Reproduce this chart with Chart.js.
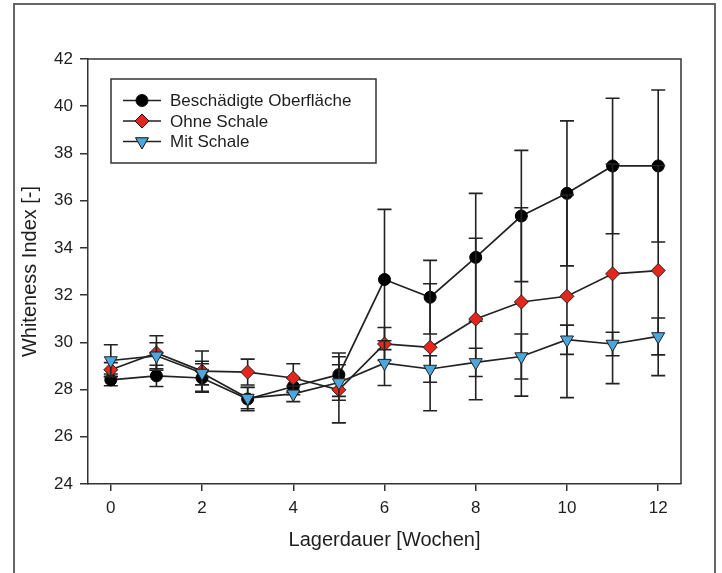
<!DOCTYPE html>
<html><head><meta charset="utf-8">
<script src="https://cdn.jsdelivr.net/npm/chart.js@4.4.1/dist/chart.umd.min.js"></script>
<style>html,body{margin:0;padding:0;background:#fff;}canvas{display:block}</style>
</head><body>
<canvas id="c" width="722" height="573"></canvas>
<script>
// ---- data ----
const weeks = [0,1,2,3,4,5,6,7,8,9,10,11,12];
const xTickValues = [0,2,4,6,8,10,12];
const yTickValues = [24,26,28,30,32,34,36,38,40,42];
const seriesNames = ['Beschädigte Oberfläche','Ohne Schale','Mit Schale'];
const xTitle = 'Lagerdauer [Wochen]';
const yTitle = 'Whiteness Index [-]';

const damaged   = [28.41,28.58,28.49,27.60,28.13,28.63,32.66,31.91,33.60,35.35,36.31,37.47,37.47];
const damagedSD = [0.25,0.45,0.60,0.50,0.35,0.92,2.97,1.56,2.71,2.78,3.07,2.87,3.22];
const noShell   = [28.84,29.55,28.78,28.74,28.49,27.99,29.93,29.79,30.99,31.71,31.95,32.90,33.04];
const noShellSD = [0.30,0.73,0.85,0.55,0.60,1.40,0.70,2.69,3.42,3.99,4.29,4.65,4.45];
const withShell   = [29.23,29.43,28.70,27.64,27.82,28.30,29.12,28.87,29.15,29.40,30.11,29.93,30.25];
const withShellSD = [0.67,0.55,0.50,0.45,0.33,0.75,0.95,0.56,0.60,0.95,0.62,0.50,0.78];

const FONT = "'Liberation Sans', Arial, Helvetica, sans-serif";
Chart.defaults.font.family = FONT;
Chart.defaults.color = '#1e1e1e';

function pts(vals){ return weeks.map((w,i)=>({x:w,y:vals[i]})); }

const outerFrame = {
  id:'outerFrame',
  beforeDraw(chart){
    const c = chart.ctx; c.save();
    c.fillStyle='#fff'; c.fillRect(0,0,chart.width,chart.height);
    c.strokeStyle='#666'; c.lineWidth=2;
    c.strokeRect(14,4,701,640);
    c.restore();
  },
  afterDraw(chart){
    const a = chart.chartArea, c = chart.ctx; c.save();
    c.strokeStyle='#333'; c.lineWidth=1.5;
    c.beginPath();
    c.moveTo(a.left,a.top); c.lineTo(a.right,a.top); c.lineTo(a.right,a.bottom);
    c.stroke(); c.restore();
  }
};

const errorBars = {
  id:'errorBars',
  beforeDatasetDraw(chart,args){
    const ds = chart.data.datasets[args.index];
    const ys = chart.scales.y, c = chart.ctx;
    c.save(); c.strokeStyle='#222'; c.lineWidth=1.6;
    args.meta.data.forEach((p,i)=>{
      const v = ds.data[i].y, e = ds.sd[i];
      const yt = ys.getPixelForValue(v+e), yb = ys.getPixelForValue(v-e), x = p.x;
      c.beginPath();
      c.moveTo(x,yt); c.lineTo(x,yb);
      c.moveTo(x-7,yt); c.lineTo(x+7,yt);
      c.moveTo(x-7,yb); c.lineTo(x+7,yb);
      c.stroke();
    });
    c.restore();
  }
};

const innerLegend = {
  id:'innerLegend',
  afterDatasetsDraw(chart){
    const a = chart.chartArea, c = chart.ctx;
    const left = a.left + 23, top = a.top + 20, w = 265, h = 84;
    c.save();
    c.fillStyle='#fff'; c.fillRect(left,top,w,h);
    c.strokeStyle='#333'; c.lineWidth=1.5; c.strokeRect(left,top,w,h);
    chart.data.datasets.forEach((ds,i)=>{
      const y = top + 21.5 + i*20.5;
      c.strokeStyle='#222'; c.lineWidth=1.6;
      c.beginPath(); c.moveTo(left+12,y); c.lineTo(left+50,y); c.stroke();
      c.fillStyle = ds.pointBackgroundColor; c.strokeStyle='#111'; c.lineWidth=1;
      Chart.helpers.drawPoint(c,{pointStyle:ds.pointStyle,radius:ds.pointRadius,rotation:ds.pointRotation||0,borderWidth:1},left+31,y);
      c.fillStyle='#1e1e1e'; c.font = "17px " + FONT; c.textBaseline='middle'; c.textAlign='left';
      c.fillText(ds.label,left+59,y+1);
    });
    c.restore();
  }
};

new Chart(document.getElementById('c'),{
  type:'line',
  data:{datasets:[
    {label:seriesNames[0],data:pts(damaged),sd:damagedSD,borderColor:'#222',borderWidth:1.7,
     pointStyle:'circle',pointRadius:6,pointBackgroundColor:'#000',pointBorderColor:'#000',pointBorderWidth:1,order:2},
    {label:seriesNames[1],data:pts(noShell),sd:noShellSD,borderColor:'#222',borderWidth:1.7,
     pointStyle:'rectRot',pointRadius:7,pointBackgroundColor:'#e5261d',pointBorderColor:'#222',pointBorderWidth:1,order:1},
    {label:seriesNames[2],data:pts(withShell),sd:withShellSD,borderColor:'#222',borderWidth:1.7,
     pointStyle:'triangle',pointRotation:180,pointRadius:7.5,pointBackgroundColor:'#4ea7dc',pointBorderColor:'#222',pointBorderWidth:1,order:0}
  ]},
  options:{
    responsive:false, animation:false, devicePixelRatio:1,
    layout:{padding:{left:0,top:59,right:41,bottom:0}},
    plugins:{legend:{display:false},tooltip:{enabled:false}},
    scales:{
      x:{type:'linear',min:-0.5,max:12.5,
        afterBuildTicks:s=>{s.ticks=xTickValues.map(v=>({value:v}));},
        afterFit:s=>{s.height=89;},
        grid:{drawOnChartArea:false,drawTicks:true,tickLength:7,color:'#333',lineWidth:1.5},
        border:{display:true,color:'#333',width:1.5},
        ticks:{font:{size:17},padding:7,maxRotation:0,autoSkip:false,color:'#1e1e1e',callback:v=>String(v)},
        title:{display:true,text:xTitle,font:{size:20},color:'#1e1e1e',padding:{top:0,bottom:21}}
      },
      y:{type:'linear',min:24,max:42,
        afterBuildTicks:s=>{s.ticks=yTickValues.map(v=>({value:v}));},
        afterFit:s=>{s.width=88;},
        grid:{drawOnChartArea:false,drawTicks:true,tickLength:8,color:'#333',lineWidth:1.5},
        border:{display:true,color:'#333',width:1.5},
        ticks:{font:{size:17},padding:7,autoSkip:false,color:'#1e1e1e',callback:v=>String(v)},
        title:{display:true,text:yTitle,font:{size:20},color:'#1e1e1e',padding:{top:18,bottom:0}}
      }
    }
  },
  plugins:[outerFrame,errorBars,innerLegend]
});
</script>
</body></html>
